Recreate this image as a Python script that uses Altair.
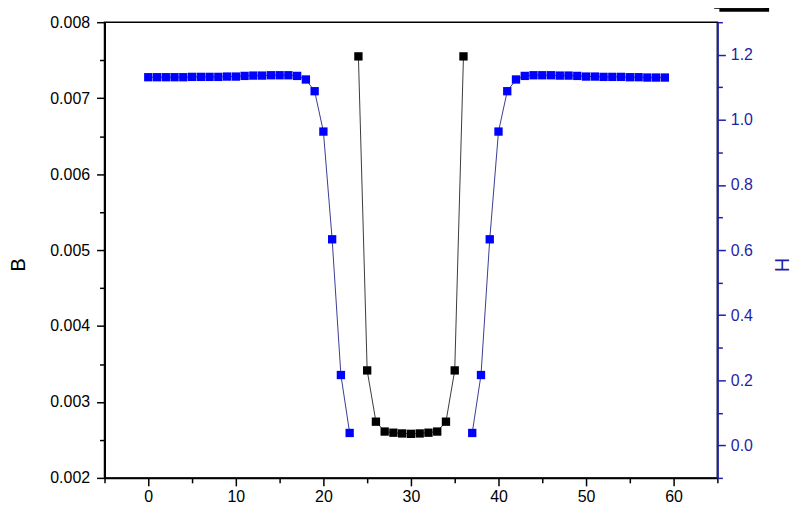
import altair as alt
import pandas as pd

# ---- data ----
b_x = list(range(24, 37))
b_vals = [0.00755, 0.003415, 0.00274, 0.00261, 0.002595, 0.002585, 0.00258,
          0.002585, 0.002595, 0.00261, 0.00274, 0.003415, 0.00755]

h_x = list(range(0, 24)) + list(range(37, 60))
h_vals = [1.131, 1.131, 1.131, 1.131, 1.131, 1.132, 1.132, 1.132, 1.132, 1.133,
          1.133, 1.135, 1.136, 1.136, 1.137, 1.137, 1.137, 1.135, 1.124, 1.088,
          0.964, 0.633, 0.216, 0.038,
          0.038, 0.216, 0.633, 0.964, 1.088, 1.124, 1.135, 1.137, 1.137, 1.137,
          1.136, 1.136, 1.135, 1.133, 1.133, 1.132, 1.132, 1.132, 1.131, 1.131,
          1.130, 1.130, 1.130]

x_major = [0, 10, 20, 30, 40, 50, 60]
x_minor = [-5, 5, 15, 25, 35, 45, 55, 65]
b_major = [0.002, 0.003, 0.004, 0.005, 0.006, 0.007, 0.008]
b_minor = [0.0025, 0.0035, 0.0045, 0.0055, 0.0065, 0.0075]
h_major = [0.0, 0.2, 0.4, 0.6, 0.8, 1.0, 1.2]
h_minor = [-0.1, 0.1, 0.3, 0.5, 0.7, 0.9, 1.1, 1.3]

X_DOMAIN = [-5, 65]
B_DOMAIN = [0.002, 0.008]
H_DOMAIN = [-0.1, 1.3]

df_b = pd.DataFrame({"x": b_x, "B": b_vals})
df_h = pd.DataFrame({"x": h_x, "H": h_vals,
                     "seg": ["left" if v < 30 else "right" for v in h_x]})
df_one = pd.DataFrame({"k": [0]})

FONT = "Liberation Sans"
BLUE_AX = "#1f1fa6"
W, H = 616, 458


def xs():
    return alt.Scale(domain=X_DOMAIN, nice=False, zero=False)


def bs():
    return alt.Scale(domain=B_DOMAIN, nice=False, zero=False)


def hs():
    return alt.Scale(domain=H_DOMAIN, nice=False, zero=False)


x_major_axis = alt.Axis(values=x_major, orient="bottom", tickSize=8, tickWidth=1.5,
                        domainWidth=2, domainColor="black", tickColor="black",
                        labelFontSize=16, labelFont=FONT, labelColor="black",
                        labelPadding=3, grid=False, title=None, format="d")
x_minor_axis = alt.Axis(values=x_minor, orient="bottom", tickSize=5, tickWidth=1.5,
                        tickColor="black", domain=False, labels=False,
                        grid=False, title=None)

b_major_axis = alt.Axis(values=b_major, orient="left", tickSize=8, tickWidth=1.5,
                        domainWidth=2, domainColor="black", tickColor="black",
                        labelFontSize=16, labelFont=FONT, labelColor="black",
                        labelPadding=7, grid=False, format=".3f",
                        title="B", titleFont=FONT, titleFontSize=20,
                        titleFontWeight="normal", titleColor="black",
                        titleX=-86, titleY=243.5, titleAngle=270,
                        titleAlign="center", titleBaseline="middle")
b_minor_axis = alt.Axis(values=b_minor, orient="left", tickSize=5, tickWidth=1.5,
                        tickColor="black", domain=False, labels=False,
                        grid=False, title=None)

h_major_axis = alt.Axis(values=h_major, orient="right", tickSize=8, tickWidth=1.5,
                        domainWidth=2, domainColor=BLUE_AX, tickColor=BLUE_AX,
                        labelFontSize=16, labelFont=FONT, labelColor=BLUE_AX,
                        labelPadding=5, grid=False, format=".1f",
                        title="H", titleFont=FONT, titleFontSize=20,
                        titleFontWeight="normal", titleColor=BLUE_AX,
                        titleX=63, titleY=243.5, titleAngle=90,
                        titleAlign="center", titleBaseline="middle")
h_minor_axis = alt.Axis(values=h_minor, orient="right", tickSize=5, tickWidth=1.5,
                        tickColor=BLUE_AX, domain=False, labels=False,
                        grid=False, title=None)

black_line = alt.Chart(df_b).mark_line(color="#3a3a3a", strokeWidth=1).encode(
    x=alt.X("x:Q", scale=xs(), axis=x_major_axis),
    y=alt.Y("B:Q", scale=bs(), axis=b_major_axis),
)
black_pts = alt.Chart(df_b).mark_square(color="black", size=70, filled=True, opacity=1).encode(
    x=alt.X("x:Q", scale=xs(), axis=None),
    y=alt.Y("B:Q", scale=bs(), axis=None),
)
blue_line = alt.Chart(df_h).mark_line(color="#3b3b92", strokeWidth=1).encode(
    x=alt.X("x:Q", scale=xs(), axis=None),
    y=alt.Y("H:Q", scale=hs(), axis=h_major_axis),
    detail="seg:N",
)
blue_pts = alt.Chart(df_h).mark_square(color="#0000ff", size=70, filled=True, opacity=1).encode(
    x=alt.X("x:Q", scale=xs(), axis=None),
    y=alt.Y("H:Q", scale=hs(), axis=None),
)
minor_lb = alt.Chart(df_b).mark_point(opacity=0).encode(
    x=alt.X("x:Q", scale=xs(), axis=x_minor_axis),
    y=alt.Y("B:Q", scale=bs(), axis=b_minor_axis),
)
minor_r = alt.Chart(df_h).mark_point(opacity=0).encode(
    x=alt.X("x:Q", scale=xs(), axis=None),
    y=alt.Y("H:Q", scale=hs(), axis=h_minor_axis),
)
# partially visible legend frame at the top-right corner (decoration)
legend_shadow = alt.Chart(df_one).mark_rect(color="black").encode(
    x=alt.value(618), x2=alt.value(668), y=alt.value(-30), y2=alt.value(-10.5),
)
legend_box = alt.Chart(df_one).mark_rect(fill="white", stroke="black", strokeWidth=1).encode(
    x=alt.value(613), x2=alt.value(663), y=alt.value(-34), y2=alt.value(-14),
)

chart = alt.layer(
    legend_shadow, legend_box,
    black_line, black_pts, blue_line, blue_pts, minor_lb, minor_r,
).resolve_scale(
    x="independent", y="independent"
).properties(
    width=W, height=H,
    autosize=alt.AutoSizeParams(type="none"),
    padding={"left": 97, "top": 13, "right": 75, "bottom": 30},
    background="white",
).configure_view(
    stroke="black", strokeWidth=1.5
)

chart.save("out.html", embed_options={"renderer": "svg", "actions": False})
